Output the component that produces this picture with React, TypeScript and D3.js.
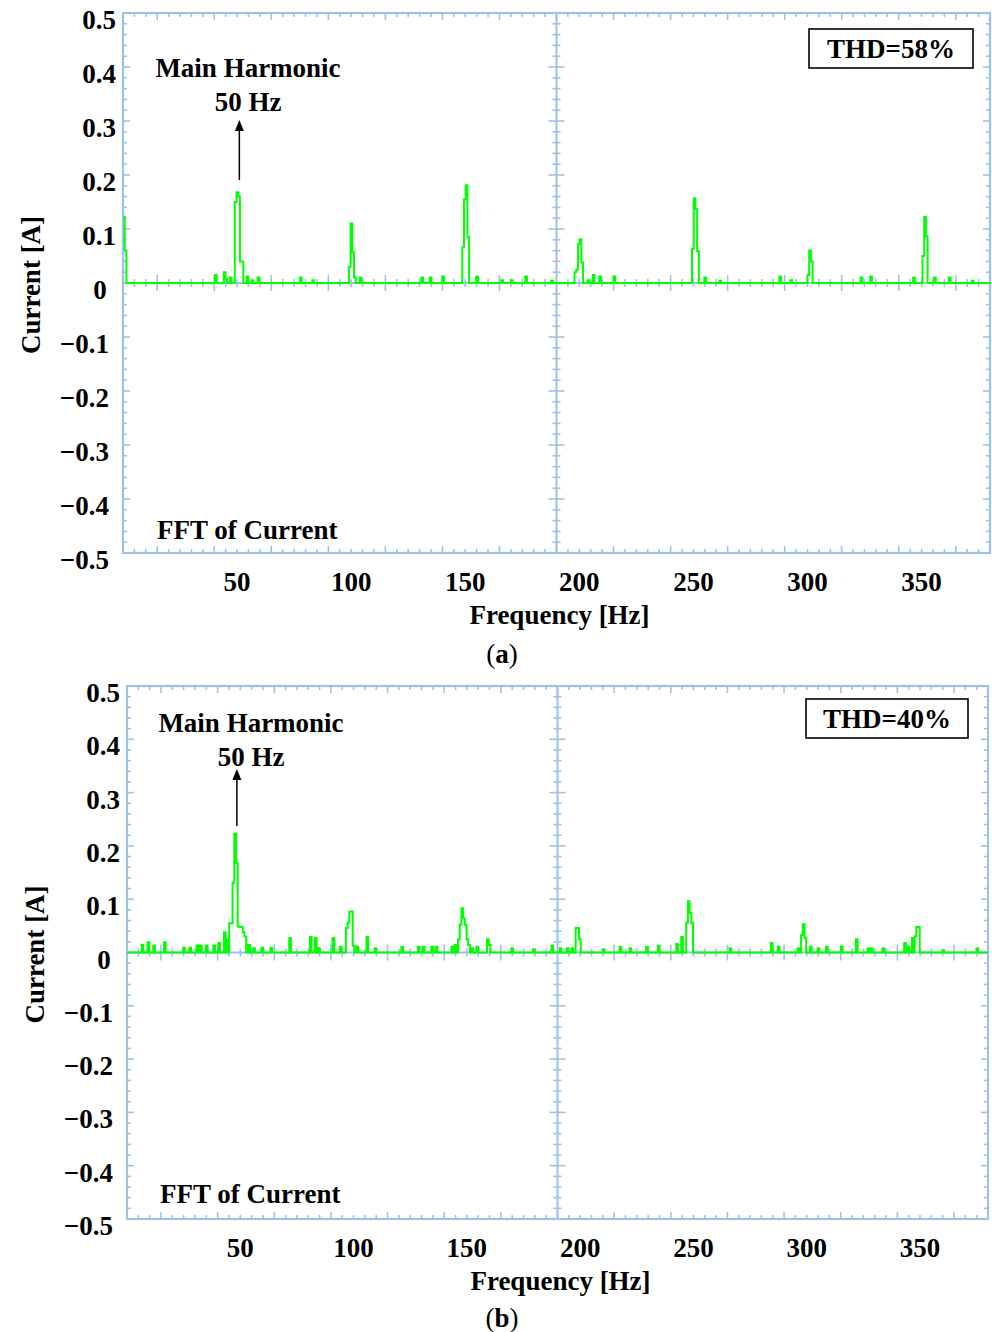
import React from 'react';
import * as d3 from 'd3';

// spectrum (a): frequency bins [Hz] and current amplitude [A]
const freqA = [0, 0.75, 40.3, 44.2, 44.9, 46.8, 49.0, 49.75, 50.5, 51.25, 52.0, 54.2, 56.3, 59.0, 77.5, 83.0,
  99.0, 99.75, 100.5, 101.25, 103.8, 130.8, 134.4, 140.0, 148.7, 149.45, 150.2, 150.95, 154.8, 165.8, 170.0,
  176.3, 187.7, 197.9, 198.65, 199.4, 200.15, 200.9, 203.6, 205.9, 208.8, 215.0, 249.4, 250.15, 250.9, 251.65,
  254.8, 261.4, 287.7, 292.5, 300.0, 300.75, 301.5, 323.3, 327.5, 346.3, 350.4, 351.15, 351.9, 355.5, 362.0, 372.0];
const ampA = [0.122, 0.06, 0.015, 0.02, 0.008, 0.01, 0.15, 0.168, 0.16, 0.04, 0.04, 0.012, 0.005, 0.01, 0.01, 0.005,
  0.03, 0.11, 0.057, 0.01, 0.01, 0.01, 0.01, 0.012, 0.066, 0.155, 0.181, 0.085, 0.012, 0.005, 0.005,
  0.012, 0.004, 0.02, 0.025, 0.072, 0.081, 0.038, 0.005, 0.015, 0.012, 0.012, 0.063, 0.157, 0.137, 0.059,
  0.01, 0.004, 0.012, 0.005, 0.015, 0.06, 0.04, 0.01, 0.012, 0.01, 0.05, 0.122, 0.087, 0.01, 0.01, 0.004];

// spectrum (b)
const freqB = [6.5, 9.1, 11.6, 16.3, 24.8, 27.5, 30.7, 32.2, 34.8, 38.1, 40.3, 42.8, 44.0, 45.1, 45.85, 46.6,
  47.35, 48.1, 48.85, 49.6, 50.35, 51.1, 51.85, 53.5, 55.7, 59.4, 63.3, 71.6, 80.7, 82.9, 84.4, 90.7, 93.9,
  96.6, 97.35, 98.1, 98.85, 99.6, 101.3, 105.7, 109.3, 121.1, 128.4, 130.6, 134.3, 136.2, 143.2, 144.6, 146.1,
  146.85, 147.6, 148.35, 149.1, 149.85, 150.6, 152.0, 154.2, 158.9, 159.65, 169.6, 179.2, 187.3, 190.9, 194.1,
  196.1, 198.0, 198.75, 199.5, 210.0, 217.4, 221.8, 229.1, 234.3, 242.4, 244.6, 246.8, 247.55, 248.3, 249.05,
  265.9, 284.2, 287.2, 296.0, 297.5, 298.25, 299.0, 301.4, 304.8, 308.5, 315.1, 321.7, 326.9, 328.3, 333.5,
  343.0, 344.5, 346.4, 347.6, 348.35, 349.1, 359.9, 374.9];
const ampB = [0.014, 0.019, 0.0125, 0.019, 0.009, 0.009, 0.013, 0.013, 0.013, 0.013, 0.018, 0.038, 0.024, 0.055, 0.055, 0.131,
  0.223, 0.168, 0.049, 0.048, 0.048, 0.038, 0.03, 0.014, 0.008, 0.009, 0.009, 0.027, 0.029, 0.027, 0.008, 0.027, 0.011,
  0.046, 0.056, 0.077, 0.077, 0.0125, 0.011, 0.029, 0.008, 0.011, 0.011, 0.011, 0.011, 0.011, 0.011, 0.014, 0.025,
  0.052, 0.083, 0.064, 0.052, 0.025, 0.014, 0.008, 0.011, 0.025, 0.014, 0.008, 0.006, 0.0125, 0.008, 0.008,
  0.008, 0.046, 0.046, 0.025, 0.006, 0.011, 0.008, 0.011, 0.0125, 0.016, 0.029, 0.056, 0.096, 0.074, 0.055,
  0.008, 0.018, 0.011, 0.008, 0.033, 0.053, 0.027, 0.011, 0.008, 0.011, 0.011, 0.025, 0.008, 0.008, 0.008,
  0.018, 0.011, 0.027, 0.03, 0.048, 0.048, 0.004, 0.008];

const xTickLabels = [50, 100, 150, 200, 250, 300, 350];
const yTickLabels = [0.5, 0.4, 0.3, 0.2, 0.1, 0, -0.1, -0.2, -0.3, -0.4, -0.5];
const fMax = 380;
const binW = 0.75;

const FONT = '"Liberation Serif", "Times New Roman", serif';
const BLUE = '#9cc3e6';
const GREEN = '#00ff00';

const fmtY = (v: number) => (v === 0 ? '0' : (v < 0 ? '\u2212' : '') + Math.abs(v).toFixed(1));

// step outline of the bins, dropping back to zero between separate spikes
function buildPoints(freqs: number[], amps: number[]) {
  const pts: [number, number][] = [];
  if (freqs[0] > 0) pts.push([0, 0]);
  freqs.forEach((f, i) => {
    pts.push([f, amps[i]]);
    const next = freqs[i + 1];
    if (next === undefined || next - f > binW + 0.1) pts.push([f + binW, 0]);
  });
  pts.push([fMax, 0]);
  return pts;
}

type Cfg = {
  id: string; left: number; right: number; top: number; bottom: number;
  freqs: number[]; amps: number[]; thd: string; tag: string;
  arrowF: number; noteX: number; noteY: number; arrowTop: number; arrowBottom: number;
  thdBox: [number, number, number, number]; fftX: number; fftY: number; ylabX: number; tagY: number;
};

const Panel = ({ c }: { c: Cfg }) => {
  const x = d3.scaleLinear().domain([0, fMax]).range([c.left, c.right]);
  const y = d3.scaleLinear().domain([-0.5, 0.5]).range([c.bottom, c.top]);
  const xt = d3.range(5, fMax, 5);
  const yt = d3.range(-24, 25).map(i => ({ v: i * 0.02, major: i % 5 === 0 }));
  const isMajorX = (f: number) => (f - 15) % 25 === 0;
  const cx = x(fMax / 2);
  const y0 = y(0);
  const line = d3.line<[number, number]>()
    .x(d => x(d[0]))
    .y(d => y(d[1]))
    .curve(d3.curveStepAfter);
  const pts = buildPoints(c.freqs, c.amps);
  const [bx, by, bw, bh] = c.thdBox;
  return (
    <g>
      <defs>
        <clipPath id={'clip' + c.id}>
          <rect x={c.left} y={c.top} width={c.right - c.left} height={c.bottom - c.top} />
        </clipPath>
      </defs>
      {/* ticks on the frame edges and the centre cross */}
      <g stroke={BLUE} strokeWidth={1.6}>
        {xt.map(f => {
          const l = isMajorX(f) ? 7 : 4;
          return (
            <g key={'xt' + f}>
              <line x1={x(f)} x2={x(f)} y1={c.top} y2={c.top + l} />
              <line x1={x(f)} x2={x(f)} y1={c.bottom} y2={c.bottom - l} />
              {f !== fMax / 2 && (
                <line x1={x(f)} x2={x(f)} y1={y0 - (isMajorX(f) ? 8 : 4)} y2={y0 + (isMajorX(f) ? 8 : 4)} />
              )}
            </g>
          );
        })}
        {yt.map(t => {
          const l = t.major ? 7 : 4;
          return (
            <g key={'yt' + t.v}>
              <line x1={c.left} x2={c.left + l} y1={y(t.v)} y2={y(t.v)} />
              <line x1={c.right} x2={c.right - l} y1={y(t.v)} y2={y(t.v)} />
              {Math.abs(t.v) > 1e-9 && (
                <line x1={cx - (t.major ? 8 : 4)} x2={cx + (t.major ? 8 : 4)} y1={y(t.v)} y2={y(t.v)} />
              )}
            </g>
          );
        })}
        <line x1={cx} x2={cx} y1={c.top} y2={c.bottom} strokeWidth={2} />
        <line x1={c.left} x2={c.right} y1={y0} y2={y0} strokeWidth={2} />
      </g>
      <rect x={c.left} y={c.top} width={c.right - c.left} height={c.bottom - c.top}
        fill="none" stroke={BLUE} strokeWidth={2.2} />
      <path d={line(pts) || ''} fill="none" stroke={GREEN} strokeWidth={2}
        clipPath={`url(#clip${c.id})`} />

      <g fontFamily={FONT} fontWeight="bold" fontSize={27} fill="#000">
        {yTickLabels.map(v => (
          <text key={'yl' + v} x={v === 0 ? c.left - 23 : v < 0 ? c.left - 14 : c.left - 7} y={y(v) + 16}
            textAnchor={v === 0 ? 'middle' : 'end'}>{fmtY(v)}</text>
        ))}
        {xTickLabels.map(f => (
          <text key={'xl' + f} x={x(f)} y={c.bottom + 38} textAnchor="middle">{f}</text>
        ))}
        <text x={(c.left + c.right) / 2 + 3} y={c.bottom + 71} textAnchor="middle">Frequency [Hz]</text>
        <text transform={`translate(${c.ylabX},${(c.top + c.bottom) / 2 + 2}) rotate(-90)`}
          textAnchor="middle">Current [A]</text>
        <text x={c.noteX} y={c.noteY} textAnchor="middle">Main Harmonic</text>
        <text x={c.noteX} y={c.noteY + 34} textAnchor="middle">50 Hz</text>
        <text x={c.fftX} y={c.fftY}>FFT of Current</text>
        <text x={bx + bw / 2} y={by + bh - 10} textAnchor="middle">{c.thd}</text>
        <text x={502} y={c.tagY} textAnchor="middle" fontWeight="normal">
          (<tspan fontWeight="bold">{c.tag}</tspan>)
        </text>
      </g>
      <rect x={bx} y={by} width={bw} height={bh} fill="none" stroke="#000" strokeWidth={1.6} />
      <line x1={x(c.arrowF)} x2={x(c.arrowF)} y1={c.arrowBottom} y2={c.arrowTop + 9}
        stroke="#000" strokeWidth={1.5} />
      <path d={`M${x(c.arrowF)},${c.arrowTop} l-4.5,11 l9,0 z`} fill="#000" />
    </g>
  );
};

const panels: Cfg[] = [
  {
    id: 'a', left: 123, right: 990, top: 13, bottom: 553, freqs: freqA, amps: ampA, thd: 'THD=58%', tag: 'a',
    arrowF: 51, noteX: 248, noteY: 77, arrowTop: 120, arrowBottom: 180,
    thdBox: [809, 29, 164, 39], fftX: 157, fftY: 539, ylabX: 40, tagY: 663,
  },
  {
    id: 'b', left: 127, right: 988, top: 686, bottom: 1219, freqs: freqB, amps: ampB, thd: 'THD=40%', tag: 'b',
    arrowF: 48.5, noteX: 251, noteY: 732, arrowTop: 769, arrowBottom: 826,
    thdBox: [806, 699, 162, 39], fftX: 160, fftY: 1203, ylabX: 44, tagY: 1327,
  },
];

export default function App() {
  return (
    <div style={{ position: 'absolute', left: 0, top: 0 }}>
      <svg width={992} height={1332} style={{ display: 'block', background: '#fff' }}>
        {panels.map(p => <Panel key={p.id} c={p} />)}
      </svg>
    </div>
  );
}
